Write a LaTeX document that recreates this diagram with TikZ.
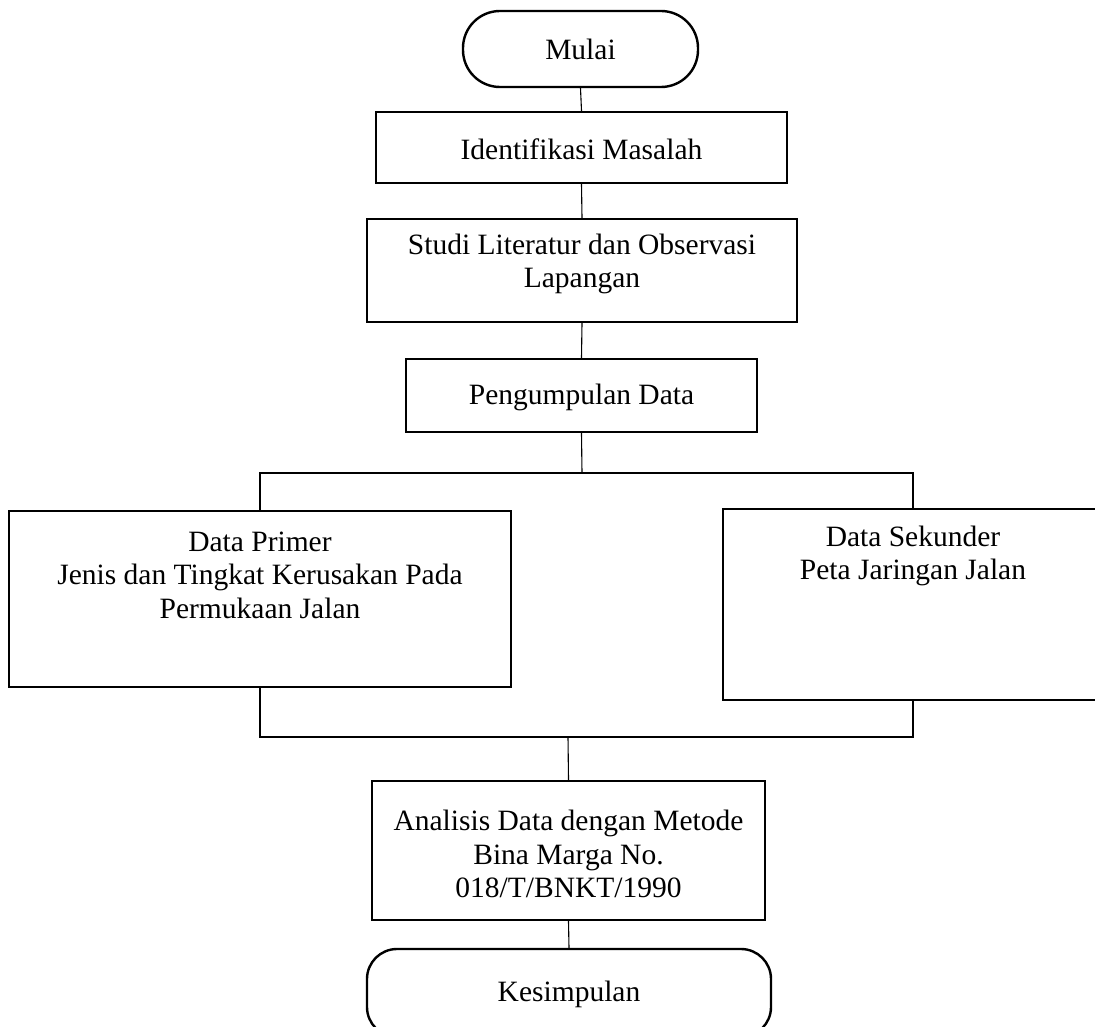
\documentclass[tikz,border=0pt]{standalone}
\usepackage{fontspec}
\setmainfont{Liberation Serif}
\begin{document}
\begin{tikzpicture}[x=1pt,y=-1pt,
  every node/.style={font=\fontsize{29.5}{33.5}\selectfont, inner sep=0pt, align=center},
  boxst/.style={draw, rectangle, line width=2.4pt},
  termst/.style={draw, rectangle, line width=2.4pt},
  conn/.style={line width=1.1pt}]
\useasboundingbox (0,0) rectangle (1095,1027);
\clip (0,0) rectangle (1095,1027);
% terminals
\node[termst, rounded corners=37pt, minimum width=235pt, minimum height=76pt] (mulai) at (580.5,49) {Mulai};
\node[termst, rounded corners=30pt, minimum width=404pt, minimum height=88pt] (kesimpulan) at (569,993) {};
\node (tkes) at (569,994) {Kesimpulan};
% process boxes
\node[boxst, minimum width=411pt, minimum height=71pt] (ident) at (581.5,147.5) {};
\node (tident) at (581.5,149) {Identifikasi Masalah};
\node[boxst, minimum width=430pt, minimum height=103pt] (studi) at (582,270.5) {};
\node (tstudi) at (582,264) {Studi Literatur dan Observasi\\Lapangan};
\node[boxst, minimum width=351pt, minimum height=73pt] (peng) at (581.5,395.5) {};
\node (tpeng) at (581.5,397) {Pengumpulan Data};
\node[boxst, minimum width=502pt, minimum height=176pt] (primer) at (260,599) {};
\node (tprimer) at (260,575) {Data Primer\\Jenis dan Tingkat Kerusakan Pada\\Permukaan Jalan};
\node[boxst, minimum width=380pt, minimum height=191pt] (sekunder) at (913,604.5) {};
\node (tsekunder) at (913,556) {Data Sekunder\\Peta Jaringan Jalan};
\node[boxst, minimum width=393pt, minimum height=139pt] (analisis) at (568.5,850.5) {};
\node (tanalisis) at (568.5,854) {Analisis Data dengan Metode\\Bina Marga No.\\018/T/BNKT/1990};
% junction coordinates
\coordinate (split) at (582,473);
\coordinate (splitL) at (260,473);
\coordinate (splitR) at (913,473);
\coordinate (mergeL) at (260,737);
\coordinate (mergeR) at (913,737);
\coordinate (merge) at (568,737);
% connectors
\draw[conn] (mulai.south) -- (ident.north);
\draw[conn] (ident.south) -- (studi.north);
\draw[conn] (studi.south) -- (peng.north);
\draw[conn] (peng.south) -- (split);
\draw[conn] (primer.north) -- (splitL) -- (splitR) -- (sekunder.north);
\draw[conn] (primer.south) -- (mergeL) -- (mergeR) -- (sekunder.south);
\draw[conn] (merge) -- (analisis.north);
\draw[conn] (analisis.south) -- (kesimpulan.north);
\end{tikzpicture}
\end{document}
